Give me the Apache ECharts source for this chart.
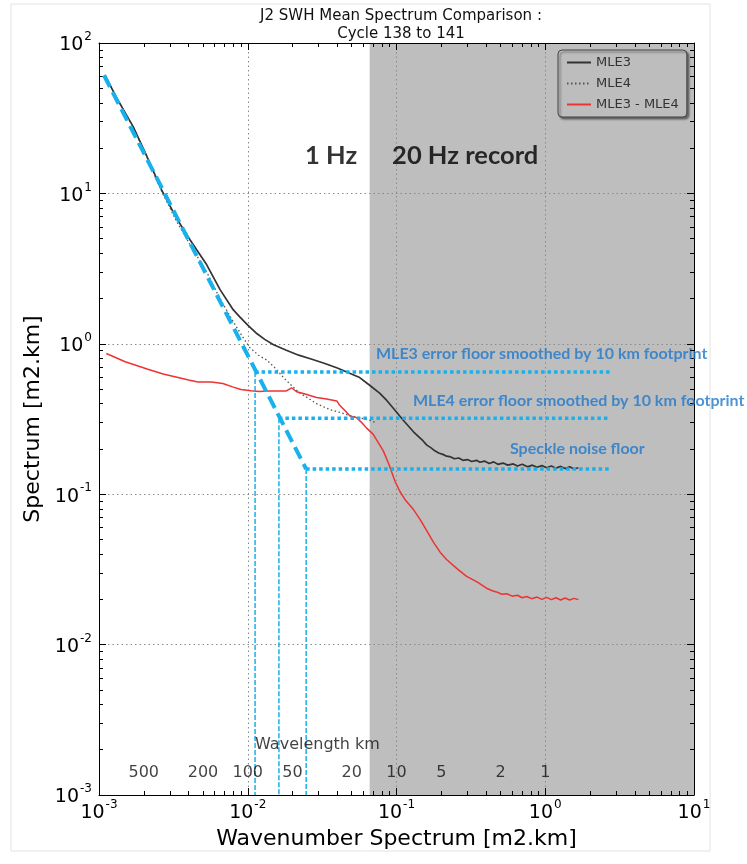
<!DOCTYPE html>
<html>
<head>
<meta charset="utf-8">
<script src="https://cdn.jsdelivr.net/npm/echarts@6/dist/echarts.min.js"></script>
<style>html,body{margin:0;padding:0;background:#fff}#c{width:747px;height:864px}</style>
</head>
<body>
<div id="c"></div>
<script>
// ---------- data ----------
const titleText = 'J2 SWH Mean Spectrum Comparison :\nCycle 138 to 141';
const xName = 'Wavenumber Spectrum [m2.km]';
const yName = 'Spectrum [m2.km]';
const xMin = 1e-3, xMax = 10, yMin = 1e-3, yMax = 100;
const shadeStart = 0.066;

const mle3X = [0.0011,0.0013,0.0017,0.0021,0.00264,0.0033,0.0041,0.0053,0.0065,0.0080,0.0089,0.0100,0.0115,0.0130,0.0148,0.018,0.022,0.027,0.033,0.040,0.048,0.056,0.066,0.077,0.086,0.098,0.111,0.130,0.151,0.160,0.170,0.180,0.192,0.205,0.217,0.232,0.245,0.262,0.280,0.300,0.320,0.345,0.364,0.390,0.420,0.450,0.480,0.520,0.560,0.610,0.650,0.700,0.760,0.820,0.880,0.950,1.02,1.10,1.18,1.27,1.36,1.46,1.56,1.67];
const mle3Y = [61,44,27.7,17.6,10.5,6.9,4.9,3.35,2.3,1.68,1.50,1.33,1.17,1.07,0.99,0.91,0.84,0.79,0.74,0.69,0.64,0.60,0.53,0.47,0.42,0.36,0.31,0.26,0.226,0.212,0.204,0.195,0.188,0.184,0.179,0.177,0.172,0.174,0.168,0.170,0.165,0.168,0.163,0.166,0.160,0.164,0.158,0.161,0.156,0.159,0.154,0.158,0.152,0.156,0.151,0.155,0.150,0.154,0.149,0.153,0.148,0.152,0.147,0.150];

const mle4X = [0.0011,0.0013,0.0017,0.0021,0.00264,0.0033,0.0041,0.0053,0.0065,0.0080,0.0092,0.0103,0.0118,0.0134,0.0155,0.0173,0.0200,0.0224,0.0260,0.0290,0.0357,0.0437,0.0487,0.057,0.066,0.072];
const mle4Y = [61,44,27.5,17.4,10.3,6.6,4.55,3.0,2.0,1.4,1.12,0.945,0.84,0.78,0.68,0.60,0.52,0.47,0.43,0.40,0.365,0.345,0.333,0.322,0.31,0.30];

const diffX = [0.00112,0.0015,0.00213,0.0027,0.0034,0.0040,0.00463,0.0057,0.0068,0.0080,0.0090,0.0105,0.0120,0.0134,0.0160,0.0182,0.0197,0.0213,0.0240,0.0262,0.0290,0.0339,0.0397,0.0415,0.0450,0.0487,0.054,0.060,0.063,0.0698,0.0815,0.0885,0.0977,0.105,0.115,0.130,0.144,0.160,0.177,0.197,0.217,0.255,0.296,0.350,0.403,0.44,0.47,0.51,0.55,0.60,0.65,0.70,0.75,0.81,0.88,0.95,1.02,1.10,1.18,1.27,1.36,1.46,1.56,1.67];
const diffY = [0.862,0.76,0.678,0.63,0.597,0.575,0.558,0.558,0.544,0.515,0.497,0.488,0.482,0.486,0.485,0.486,0.51,0.48,0.465,0.453,0.44,0.43,0.417,0.39,0.36,0.331,0.323,0.291,0.275,0.25,0.194,0.16,0.122,0.105,0.091,0.079,0.068,0.057,0.048,0.041,0.0368,0.032,0.0284,0.026,0.0237,0.0228,0.0224,0.0216,0.0218,0.0210,0.0213,0.0205,0.0209,0.0202,0.0207,0.0200,0.0206,0.0199,0.0205,0.0198,0.0204,0.0198,0.0203,0.0199];

const powerLawX = [0.00108, 0.0247];
const powerLawY = [61, 0.147];

const floorY = [0.65, 0.32, 0.147];
const floorStartX = [0.0112, 0.0162, 0.0247];
const floorEndX = 2.72;

const noteText = ['1 Hz', '20 Hz record', 'MLE3 error floor smoothed by 10 km footprint', 'MLE4 error floor smoothed by 10 km footprint', 'Speckle noise floor'];
const noteX = [0.0243, 0.0934, 0.0728, 0.129, 0.579];
const noteY = [17.9, 17.9, 0.858, 0.417, 0.2];

const wavelengthTitle = 'Wavelength km';
const wavelengthTitleX = 0.0112, wavelengthTitleY = 0.00215;
const wavelengths = [500, 200, 100, 50, 20, 10, 5, 2, 1];
const wavelengthLabelY = 0.0014;

const legendNames = ['MLE3', 'MLE4', 'MLE3 - MLE4'];

// ---------- chart ----------
const FONT = "'DejaVu Sans', sans-serif";
const BOLD = "Lato, 'Open Sans', sans-serif";
const BLUE = '#19b1ec';
const TXTBLUE = '#1f78cc';
const zip = (a, b) => a.map((v, i) => [v, b[i]]);

function supLabel(v) {
  const e = Math.round(Math.log10(v));
  return '{b|10}{s|' + e + '}';
}
const labelRich = {
  b: { fontSize: 19, fontFamily: FONT, color: '#000', lineHeight: 24, verticalAlign: 'bottom' },
  s: { fontSize: 12, fontFamily: FONT, color: '#000', lineHeight: 24, verticalAlign: 'top', padding: [0, 0, 0, 1] }
};

function mkAxis(pos, isX, main) {
  return {
    type: 'log', logBase: 10,
    min: isX ? xMin : yMin, max: isX ? xMax : yMax,
    position: pos, z: 1,
    axisLine: { show: true, onZero: false, lineStyle: { color: '#000', width: 1 } },
    axisTick: { show: true, inside: true, length: 7, lineStyle: { color: '#000', width: 1 } },
    minorTick: { show: true, splitNumber: 9, length: 4, lineStyle: { color: '#000', width: 1 } },
    axisLabel: main ? { show: true, formatter: supLabel, rich: labelRich, margin: isX ? 4 : 7 } : { show: false },
    splitLine: { show: main, lineStyle: { color: '#8a8a8a', type: [1.5, 3], width: 1 } },
    minorSplitLine: { show: false },
    name: main ? (isX ? xName : yName) : '',
    nameLocation: 'middle',
    nameGap: isX ? 31 : 50,
    nameTextStyle: { fontFamily: FONT, fontSize: 22, color: '#000' }
  };
}

const series = [];
// shaded 20 Hz region
series.push({
  type: 'custom', name: 'shade', z: 0, silent: true,
  data: [[shadeStart, yMax]],
  renderItem: function (params, api) {
    const p0 = api.coord([shadeStart, yMax]);
    const p1 = api.coord([xMax, yMin]);
    return { type: 'rect', shape: { x: p0[0], y: p0[1], width: p1[0] - p0[0], height: p1[1] - p0[1] }, style: { fill: '#bebebe' } };
  }
});
series.push({ type: 'line', name: 'MLE3', data: zip(mle3X, mle3Y), symbol: 'none', z: 5,
  lineStyle: { color: '#333', width: 1.7 }, itemStyle: { color: '#333' } });
series.push({ type: 'line', name: 'MLE4', data: zip(mle4X, mle4Y), symbol: 'none', z: 4,
  lineStyle: { color: '#555', width: 1.3, type: [1.5, 2.5] }, itemStyle: { color: '#555' } });
series.push({ type: 'line', name: 'MLE3 - MLE4', data: zip(diffX, diffY), symbol: 'none', z: 4,
  lineStyle: { color: '#ee3333', width: 1.5 }, itemStyle: { color: '#ee3333' } });
// power law fit
series.push({ type: 'line', name: 'fit', data: zip(powerLawX, powerLawY), symbol: 'none', z: 6, silent: true,
  lineStyle: { color: BLUE, width: 4, type: [13, 6] } });
// floors
floorY.forEach((fy, i) => {
  series.push({ type: 'line', name: 'floor' + i, data: [[floorStartX[i], fy], [floorEndX, fy]], symbol: 'none', z: 6, silent: true,
    lineStyle: { color: BLUE, width: 3.5, type: [3.5, 3] } });
  series.push({ type: 'line', name: 'vert' + i, data: [[floorStartX[i], fy], [floorStartX[i], yMin]], symbol: 'none', z: 6, silent: true,
    lineStyle: { color: BLUE, width: 1.5, type: [5, 2] } });
});
// annotations
series.push({
  type: 'scatter', name: 'notes', symbolSize: 0, z: 7, silent: true,
  data: noteText.map((t, i) => ({
    value: [noteX[i], noteY[i]],
    label: {
      show: true, position: 'right', distance: 0, formatter: t,
      fontFamily: BOLD, fontWeight: 'bold',
      fontSize: i < 2 ? 25.5 : 16,
      color: i < 2 ? '#000' : TXTBLUE
    }
  }))
});
series.push({
  type: 'scatter', name: 'wavelengths', symbolSize: 0, z: 7, silent: true,
  data: wavelengths.map(w => ({
    value: [1 / w, wavelengthLabelY],
    label: { show: true, position: 'inside', formatter: String(w), fontFamily: FONT, fontSize: 16, color: '#111' }
  })).concat([{
    value: [wavelengthTitleX, wavelengthTitleY],
    label: { show: true, position: 'right', distance: 0, formatter: wavelengthTitle, fontFamily: FONT, fontSize: 16, color: '#111' }
  }])
});

const chart = echarts.init(document.getElementById('c'), null, { renderer: 'canvas' });
chart.setOption({
  backgroundColor: '#fff',
  animation: false,
  title: {
    text: titleText, left: 396, top: 2, textAlign: 'center',
    textStyle: { fontFamily: FONT, fontSize: 15, fontWeight: 'normal', color: '#111', lineHeight: 18 }
  },
  graphic: [{ type: 'rect', silent: true, z: -10, shape: { x: 11, y: 4, width: 699, height: 847 }, style: { fill: 'none', stroke: '#e2e2e2', lineWidth: 1 } }],
  legend: {
    data: legendNames, orient: 'vertical', left: 558, top: 50,
    itemWidth: 24, itemHeight: 10, itemGap: 8,
    padding: [6, 8, 6, 8],
    backgroundColor: '#bdbdbd', borderColor: '#444', borderWidth: 1, borderRadius: 4,
    shadowColor: 'rgba(0,0,0,0.45)', shadowBlur: 2, shadowOffsetX: 2, shadowOffsetY: 2,
    itemStyle: { opacity: 0 },
    textStyle: { fontFamily: FONT, fontSize: 13, color: '#333' }
  },
  grid: { left: 99, top: 43, width: 595, height: 752, containLabel: false },
  xAxis: [mkAxis('bottom', true, true), mkAxis('top', true, false)],
  yAxis: [mkAxis('left', false, true), mkAxis('right', false, false)],
  series: series
});
</script>
</body>
</html>
